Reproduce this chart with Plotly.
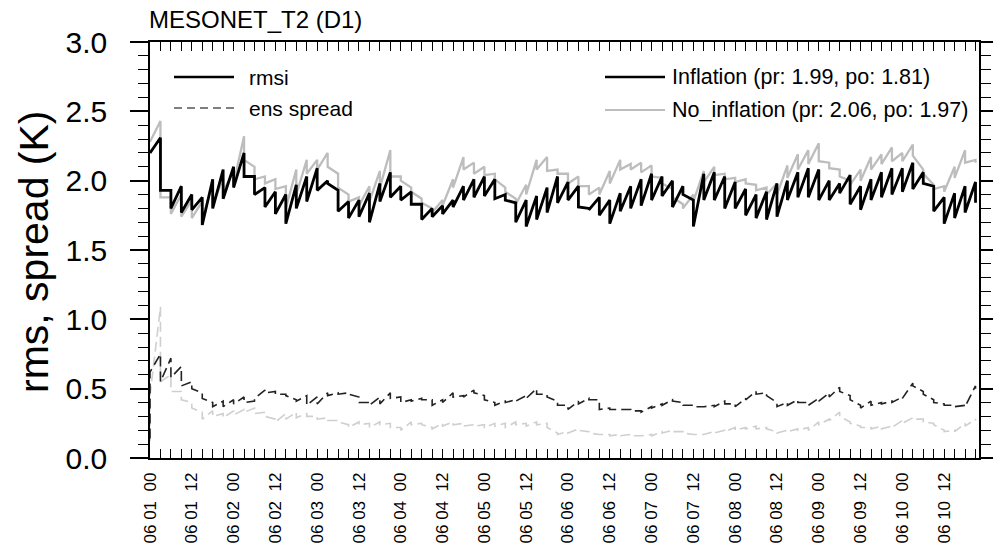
import plotly.graph_objects as go

# cycle times (hours since 06 01 00), 3-hourly
times = list(range(0, 240, 3))

# Inflation: rmsi prior / posterior
infl_rmsi_pr = [2.20, 2.31, 1.93, 1.96, 1.90, 1.88, 2.01, 2.08, 2.10, 2.20,
                2.03, 1.95, 1.92, 1.90, 1.97, 2.03, 2.09, 2.00, 1.93, 1.85,
                1.86, 1.91, 1.98, 2.06, 1.96, 1.92, 1.83, 1.80, 1.82, 1.86,
                1.96, 2.01, 2.03, 2.01, 1.90, 1.84, 1.86, 1.89, 1.95, 2.03,
                1.99, 1.96, 1.80, 1.88, 1.86, 1.91, 1.96, 2.01, 2.05, 2.03,
                2.00, 1.96, 1.86, 2.05, 2.06, 2.03, 1.99, 1.94, 1.90, 1.92,
                1.98, 2.00, 2.06, 2.09, 2.08, 2.00, 1.98, 2.04, 1.96, 2.01,
                2.06, 2.09, 2.09, 2.13, 2.06, 1.96, 1.88, 1.91, 1.96, 1.99]
infl_rmsi_po = [2.20, 1.93, 1.80, 1.77, 1.79, 1.68, 1.80, 1.87, 1.95, 2.03,
                1.90, 1.81, 1.76, 1.69, 1.80, 1.85, 1.93, 1.98, 1.78, 1.73,
                1.74, 1.70, 1.85, 1.88, 1.86, 1.83, 1.72, 1.74, 1.76, 1.81,
                1.86, 1.88, 1.89, 1.87, 1.86, 1.70, 1.67, 1.72, 1.77, 1.84,
                1.86, 1.81, 1.79, 1.75, 1.69, 1.78, 1.80, 1.82, 1.86, 1.89,
                1.81, 1.90, 1.67, 1.86, 1.86, 1.80, 1.80, 1.75, 1.73, 1.72,
                1.74, 1.86, 1.88, 1.88, 1.86, 1.86, 1.91, 1.83, 1.79, 1.86,
                1.88, 1.90, 1.92, 1.94, 1.98, 1.78, 1.69, 1.73, 1.77, 1.84]

# No inflation: rmsi prior / posterior
noinf_rmsi_pr = [2.30, 2.43, 1.88, 1.90, 1.86, 1.85, 1.98, 2.02, 2.07, 2.32,
                 2.10, 2.03, 2.01, 1.96, 2.08, 2.15, 2.15, 2.20, 2.05, 1.90,
                 1.88, 1.96, 2.07, 2.22, 2.03, 1.95, 1.87, 1.80, 1.86, 2.01,
                 2.17, 2.13, 2.10, 2.05, 1.95, 1.87, 1.97, 2.15, 2.17, 2.08,
                 2.05, 2.03, 1.96, 1.95, 2.07, 2.15, 2.12, 2.13, 2.11, 2.02,
                 1.94, 1.83, 1.90, 2.07, 2.10, 2.05, 2.02, 2.01, 1.97, 1.95,
                 1.98, 2.11, 2.19, 2.22, 2.27, 2.13, 2.08, 2.00, 2.08, 2.17,
                 2.19, 2.24, 2.20, 2.26, 2.08, 1.97, 1.96, 2.10, 2.22, 2.15]
noinf_rmsi_po = [2.28, 1.88, 1.76, 1.74, 1.73, 1.72, 1.82, 1.92, 1.98, 2.15,
                 2.01, 1.98, 1.94, 1.80, 1.90, 2.05, 2.08, 2.10, 1.95, 1.85,
                 1.82, 1.85, 1.95, 2.03, 2.00, 1.92, 1.84, 1.77, 1.82, 1.95,
                 2.08, 2.05, 2.04, 2.01, 1.92, 1.83, 1.90, 2.08, 2.07, 2.05,
                 1.98, 1.96, 1.90, 1.90, 1.98, 2.08, 2.08, 2.06, 2.03, 1.98,
                 1.88, 1.80, 1.85, 1.99, 2.04, 2.01, 1.99, 1.98, 1.93, 1.90,
                 1.90, 2.02, 2.08, 2.12, 2.14, 2.09, 2.03, 1.97, 2.00, 2.08,
                 2.12, 2.14, 2.14, 2.18, 2.05, 1.94, 1.92, 2.02, 2.13, 2.13]

# Inflation: ensemble spread prior / posterior
infl_spread_pr = [0.14, 0.75, 0.72, 0.66, 0.55, 0.47, 0.40, 0.41, 0.42, 0.44,
                  0.41, 0.49, 0.48, 0.46, 0.42, 0.45, 0.44, 0.47, 0.47, 0.47,
                  0.44, 0.40, 0.44, 0.47, 0.44, 0.42, 0.43, 0.42, 0.42, 0.47,
                  0.45, 0.49, 0.45, 0.40, 0.41, 0.42, 0.45, 0.50, 0.46, 0.41,
                  0.38, 0.41, 0.43, 0.42, 0.36, 0.35, 0.35, 0.34, 0.37, 0.39,
                  0.42, 0.40, 0.38, 0.37, 0.38, 0.41, 0.39, 0.43, 0.48, 0.47,
                  0.40, 0.40, 0.42, 0.40, 0.43, 0.47, 0.51, 0.45, 0.38, 0.41,
                  0.40, 0.41, 0.44, 0.54, 0.48, 0.42, 0.39, 0.38, 0.38, 0.52]
infl_spread_po = [0.62, 0.55, 0.58, 0.52, 0.50, 0.43, 0.37, 0.37, 0.39, 0.40,
                  0.43, 0.47, 0.46, 0.45, 0.41, 0.38, 0.39, 0.45, 0.46, 0.46,
                  0.40, 0.38, 0.39, 0.43, 0.40, 0.41, 0.42, 0.38, 0.40, 0.44,
                  0.44, 0.47, 0.42, 0.38, 0.40, 0.41, 0.43, 0.46, 0.44, 0.38,
                  0.35, 0.39, 0.42, 0.35, 0.35, 0.35, 0.34, 0.33, 0.36, 0.38,
                  0.41, 0.38, 0.37, 0.37, 0.37, 0.39, 0.37, 0.42, 0.46, 0.45,
                  0.37, 0.38, 0.40, 0.38, 0.41, 0.44, 0.48, 0.42, 0.36, 0.38,
                  0.39, 0.40, 0.43, 0.52, 0.46, 0.40, 0.38, 0.37, 0.37, 0.50]

# No inflation: ensemble spread prior / posterior
noinf_spread_pr = [0.12, 1.09, 0.60, 0.48, 0.40, 0.33, 0.34, 0.32, 0.34, 0.35,
                   0.36, 0.33, 0.28, 0.32, 0.33, 0.32, 0.30, 0.29, 0.27, 0.24,
                   0.26, 0.25, 0.26, 0.25, 0.22, 0.26, 0.25, 0.22, 0.25, 0.26,
                   0.25, 0.24, 0.24, 0.25, 0.25, 0.26, 0.25, 0.26, 0.25, 0.18,
                   0.19, 0.21, 0.19, 0.17, 0.17, 0.17, 0.17, 0.16, 0.17, 0.19,
                   0.20, 0.19, 0.17, 0.17, 0.19, 0.20, 0.22, 0.22, 0.23, 0.22,
                   0.19, 0.20, 0.21, 0.22, 0.26, 0.28, 0.33, 0.26, 0.23, 0.22,
                   0.23, 0.23, 0.27, 0.29, 0.28, 0.25, 0.20, 0.20, 0.25, 0.28]
noinf_spread_po = [0.45, 0.55, 0.48, 0.42, 0.36, 0.28, 0.30, 0.29, 0.31, 0.33,
                   0.32, 0.30, 0.26, 0.28, 0.29, 0.30, 0.28, 0.27, 0.26, 0.22,
                   0.24, 0.22, 0.24, 0.22, 0.20, 0.24, 0.24, 0.21, 0.23, 0.24,
                   0.23, 0.23, 0.22, 0.23, 0.22, 0.24, 0.23, 0.24, 0.22, 0.17,
                   0.18, 0.20, 0.18, 0.17, 0.16, 0.16, 0.16, 0.16, 0.16, 0.18,
                   0.19, 0.18, 0.17, 0.17, 0.18, 0.19, 0.20, 0.21, 0.21, 0.21,
                   0.18, 0.19, 0.20, 0.20, 0.24, 0.27, 0.30, 0.25, 0.22, 0.21,
                   0.21, 0.22, 0.25, 0.28, 0.26, 0.24, 0.19, 0.19, 0.23, 0.27]

tick_hours = list(range(0, 229, 12))
tick_labels = ["06 01\u00a0 00", "06 01\u00a0 12", "06 02\u00a0 00", "06 02\u00a0 12",
               "06 03\u00a0 00", "06 03\u00a0 12", "06 04\u00a0 00", "06 04\u00a0 12",
               "06 05\u00a0 00", "06 05\u00a0 12", "06 06\u00a0 00", "06 06\u00a0 12",
               "06 07\u00a0 00", "06 07\u00a0 12", "06 08\u00a0 00", "06 08\u00a0 12",
               "06 09\u00a0 00", "06 09\u00a0 12", "06 10\u00a0 00", "06 10\u00a0 12"]

legend_left = ["rmsi", "ens spread"]
legend_right = ["Inflation (pr: 1.99, po: 1.81)", "No_inflation (pr: 2.06, po: 1.97)"]

FONT = "Liberation Sans, Arial, Helvetica, sans-serif"


def sawtooth(t, pr, po):
    xs, ys = [], []
    for ti, a, b in zip(t, pr, po):
        xs += [ti, ti]
        ys += [a, b]
    return xs, ys


GREY = "#bdbdbd"
GREY_D = "#cfcfcf"
BLACK = "#000000"

fig = go.Figure()
series = [
    (noinf_spread_pr, noinf_spread_po, GREY_D, 1.6, "10px,5px", "No_inflation spread"),
    (infl_spread_pr, infl_spread_po, "#222222", 1.6, "10px,5px", "Inflation spread"),
    (noinf_rmsi_pr, noinf_rmsi_po, GREY, 2.3, "solid", "No_inflation rmsi"),
    (infl_rmsi_pr, infl_rmsi_po, BLACK, 2.8, "solid", "Inflation rmsi"),
]
for pr, po, col, w, dash, name in series:
    xs, ys = sawtooth(times, pr, po)
    fig.add_trace(go.Scatter(x=xs, y=ys, mode="lines", name=name,
                             line=dict(color=col, width=w, dash=dash),
                             showlegend=False, hoverinfo="skip"))

L, R, T, B = 150, 14, 42, 86
W, H = 993, 544
PW, PH = W - L - R, H - T - B


def px(x):
    return (x - L) / PW


def py(y):
    return (H - B - y) / PH


shapes = []
annotations = []
# left legend
for i, (lab, col, dash, w) in enumerate(zip(legend_left, ["#000000", "#555555"],
                                             ["solid", "8px,5px"], [2.6, 1.4])):
    yy = 77 + i * 31
    shapes.append(dict(type="line", xref="paper", yref="paper",
                       x0=px(174), x1=px(234), y0=py(yy), y1=py(yy),
                       line=dict(color=col, width=w, dash=dash)))
    annotations.append(dict(text=lab, xref="paper", yref="paper", x=px(247), y=py(yy),
                            xanchor="left", yanchor="middle", showarrow=False,
                            font=dict(family=FONT, size=21, color="#000")))
# right legend
for i, (lab, col, w) in enumerate(zip(legend_right, [BLACK, GREY], [2.6, 2.2])):
    yy = 77 + i * 33
    shapes.append(dict(type="line", xref="paper", yref="paper",
                       x0=px(605), x1=px(665), y0=py(yy), y1=py(yy),
                       line=dict(color=col, width=w)))
    annotations.append(dict(text=lab, xref="paper", yref="paper", x=px(670), y=py(yy),
                            xanchor="left", yanchor="middle", showarrow=False,
                            font=dict(family=FONT, size=21.5, color="#000")))

annotations.append(dict(text="MESONET_T2 (D1)", xref="paper", yref="paper", x=px(147), y=1,
                        xanchor="left", yanchor="bottom", yshift=7, showarrow=False,
                        font=dict(family=FONT, size=24, color="#000")))
annotations.append(dict(text="rms, spread (K)", xref="paper", yref="paper", x=px(34), y=py(252),
                        xanchor="center", yanchor="middle", textangle=-90, showarrow=False,
                        font=dict(family=FONT, size=41, color="#000")))

fig.update_layout(
    width=W, height=H,
    margin=dict(l=L, r=R, t=T, b=B, autoexpand=False),
    paper_bgcolor="white", plot_bgcolor="white",
    showlegend=False,
    shapes=shapes, annotations=annotations,
    font=dict(family=FONT, color="#000"),
)
fig.update_xaxes(range=[0, 238], tickmode="array", tickvals=tick_hours, ticktext=tick_labels,
                 tickangle=-90, ticks="inside", ticklen=9, tickwidth=1.3, tickcolor="#000",
                 minor=dict(dtick=3, tick0=0, ticks="inside", ticklen=9, tickwidth=1.3,
                            tickcolor="#000", showgrid=False),
                 showline=True, linecolor="#000", linewidth=1.6, mirror="ticks",
                 showgrid=False, zeroline=False, tickfont=dict(family=FONT, size=17),
                 ticklabelstandoff=6, automargin=False)
fig.update_yaxes(range=[0, 3], tickmode="linear", tick0=0, dtick=0.5, tickformat=".1f",
                 ticks="outside", ticklen=18, tickwidth=1.6, tickcolor="#000",
                 minor=dict(dtick=0.1, tick0=0, ticks="outside", ticklen=10, tickwidth=1.3,
                            tickcolor="#000", showgrid=False),
                 showline=True, linecolor="#000", linewidth=1.6, mirror="ticks",
                 showgrid=False, zeroline=False, tickfont=dict(family=FONT, size=30),
                 ticklabelstandoff=17, automargin=False)

fig.write_html("out.html")
